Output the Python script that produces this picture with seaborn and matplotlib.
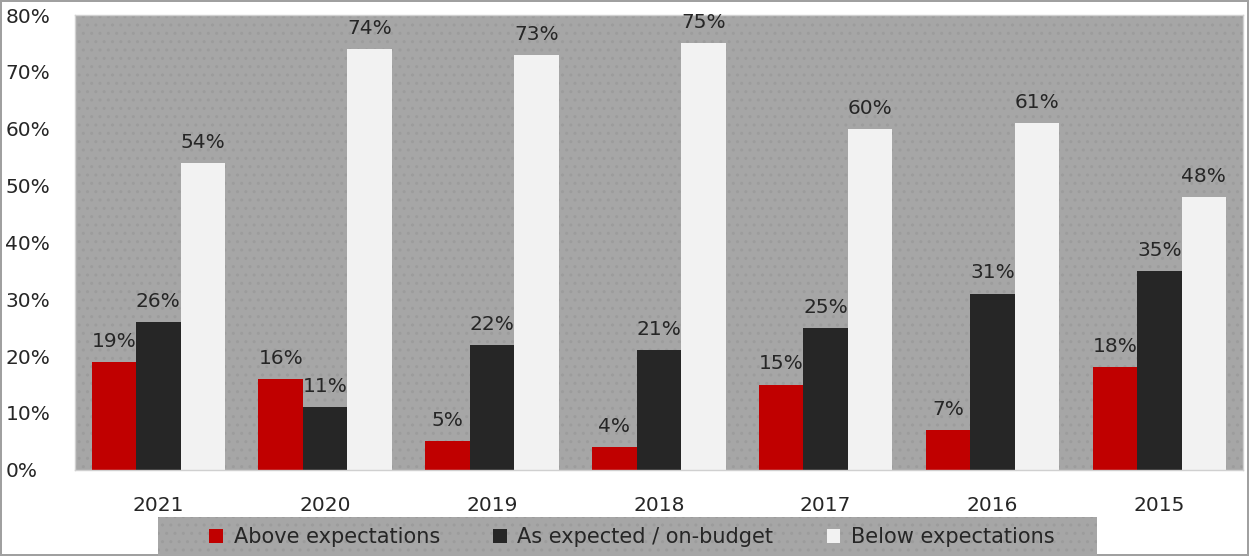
import pandas as pd
import matplotlib
matplotlib.use("Agg")
import matplotlib.pyplot as plt
import matplotlib.patches as mpatches
import seaborn as sns

years = ["2021", "2020", "2019", "2018", "2017", "2016", "2015"]
above = [19, 16, 5, 4, 15, 7, 18]
as_expected = [26, 11, 22, 21, 25, 31, 35]
below = [54, 74, 73, 75, 60, 61, 48]
series = ["Above expectations", "As expected / on-budget", "Below expectations"]
colors = ["#c00000", "#262626", "#f2f2f2"]

rows = []
for name, vals in zip(series, [above, as_expected, below]):
    for y, v in zip(years, vals):
        rows.append({"year": y, "series": name, "value": v / 100})
df = pd.DataFrame(rows)

sns.set_style("white")
plt.rcParams["font.family"] = ["DejaVu Sans"]
plt.rcParams["hatch.color"] = "#9a9a9a"

fig = plt.figure(figsize=(12.49, 5.56), dpi=100)
fig.patch.set_edgecolor("#a0a0a0")
fig.patch.set_linewidth(1.5)
ax = fig.add_axes([0.060, 0.155, 0.935, 0.818])
ax.set_facecolor("#a6a6a6")
# stippled background
bg = mpatches.Rectangle((0, 0), 1, 1, transform=ax.transAxes, facecolor="none",
                        hatch="..", edgecolor="#9c9c9c", linewidth=0, zorder=0)
ax.add_patch(bg)

sns.barplot(data=df, x="year", y="value", hue="series", order=years,
            hue_order=series, palette=colors, width=0.8, saturation=1,
            edgecolor="none", ax=ax, zorder=2)

for cont in ax.containers:
    ax.bar_label(cont, labels=[f"{v * 100:.0f}%" for v in cont.datavalues],
                 padding=8, fontsize=14.5, color="#262626")

ax.set_ylim(0, 0.8)
ax.set_xlim(-0.5, 6.5)
ax.set_yticks([i / 10 for i in range(9)])
ax.set_yticklabels([f"{i * 10}%" for i in range(9)])
ax.tick_params(axis="both", length=0, labelsize=14.5, colors="#262626")
ax.tick_params(axis="x", pad=19)
ax.tick_params(axis="y", pad=50)
for lab in ax.get_yticklabels():
    lab.set_horizontalalignment("left")
ax.set_xlabel("")
ax.set_ylabel("")
for s in ax.spines.values():
    s.set_color("#d0d0d0")
    s.set_linewidth(1)

# legend strip at the bottom
W, H = 1249, 556
strip = mpatches.Rectangle((158 / W, 0), 939 / W, 39 / H, transform=fig.transFigure,
                           facecolor="#a6a6a6", edgecolor="none", zorder=0)
fig.patches.append(strip)
strip_dots = mpatches.Rectangle((158 / W, 0), 939 / W, 39 / H, transform=fig.transFigure,
                                facecolor="none", hatch="..", edgecolor="#9c9c9c",
                                linewidth=0, zorder=0)
fig.patches.append(strip_dots)

ax.get_legend().remove()
handles = [mpatches.Patch(facecolor=c, edgecolor="none") for c in colors]
leg = fig.legend(handles, series, loc="center left", bbox_to_anchor=(203 / W, 19 / H),
                 ncol=3, frameon=False, fontsize=15, handlelength=0.67,
                 handleheight=0.67, handletextpad=0.5, columnspacing=2.55,
                 borderpad=0.3, borderaxespad=0)
for t in leg.get_texts():
    t.set_color("#262626")

fig.savefig("out.png", dpi=100)
